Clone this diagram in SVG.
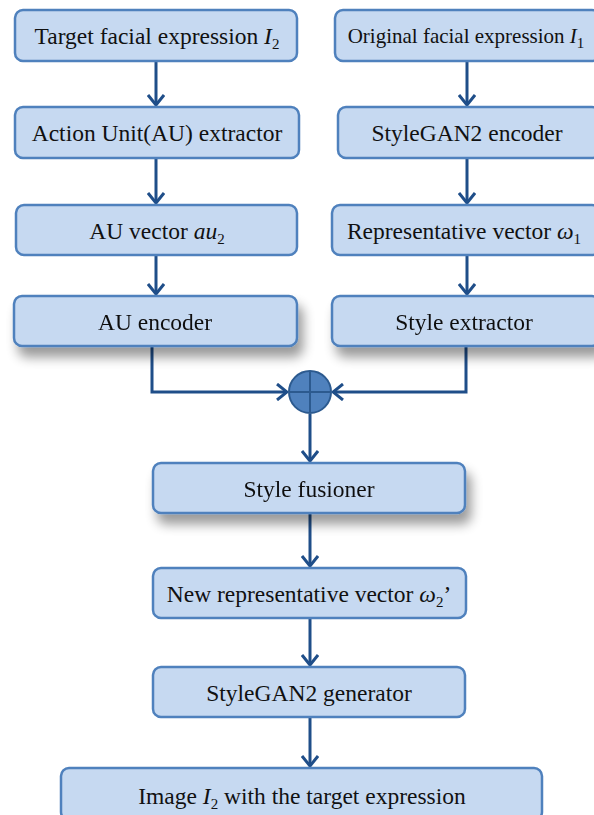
<svg xmlns="http://www.w3.org/2000/svg" width="594" height="815" viewBox="0 0 594 815">
<defs>
<style>
.box{fill:#c6d9f1;stroke:#4f81bd;stroke-width:2.5}
.t{font-family:"Liberation Serif","Times New Roman",serif;font-size:23.5px;fill:#111;text-anchor:middle}
.i{font-style:italic}
.s{font-size:15px}
.ln{fill:none;stroke:#1f4e89;stroke-width:3}
</style>
<marker id="ah" viewBox="0 0 12 18" refX="11" refY="9" markerWidth="12" markerHeight="18" markerUnits="userSpaceOnUse" orient="auto">
<path d="M1,1 L11,9 L1,17" fill="none" stroke="#1f4e89" stroke-width="3" stroke-linejoin="miter"/>
</marker>
<filter id="sh" x="-10%" y="-30%" width="125%" height="190%">
<feGaussianBlur in="SourceAlpha" stdDeviation="6"/>
<feOffset dx="5" dy="10" result="b"/>
<feComponentTransfer><feFuncA type="linear" slope="0.4"/></feComponentTransfer>
<feMerge><feMergeNode/><feMergeNode in="SourceGraphic"/></feMerge>
</filter>
</defs>
<rect width="594" height="815" fill="#fff"/>
<g id="connectors">
<line class="ln" x1="156" y1="62" x2="156" y2="105" marker-end="url(#ah)"/>
<line class="ln" x1="156" y1="158" x2="156" y2="203" marker-end="url(#ah)"/>
<line class="ln" x1="156" y1="255" x2="156" y2="294" marker-end="url(#ah)"/>
<line class="ln" x1="467" y1="62" x2="467" y2="105" marker-end="url(#ah)"/>
<line class="ln" x1="467" y1="158" x2="467" y2="203" marker-end="url(#ah)"/>
<line class="ln" x1="467" y1="255" x2="467" y2="294" marker-end="url(#ah)"/>
<polyline class="ln" points="152,347 152,392 287,392" marker-end="url(#ah)"/>
<polyline class="ln" points="466,347 466,392 333,392" marker-end="url(#ah)"/>
<line class="ln" x1="310" y1="414" x2="310" y2="461" marker-end="url(#ah)"/>
<line class="ln" x1="310" y1="514" x2="310" y2="566" marker-end="url(#ah)"/>
<line class="ln" x1="310" y1="619" x2="310" y2="665" marker-end="url(#ah)"/>
<line class="ln" x1="310" y1="718" x2="310" y2="766" marker-end="url(#ah)"/>
</g>
<g id="sum">
<circle cx="310" cy="392" r="21" fill="#4f81bd" stroke="#2c5a8f" stroke-width="2"/>
<line x1="310" y1="371" x2="310" y2="413" stroke="#2c5a8f" stroke-width="2"/>
<line x1="289" y1="392" x2="331" y2="392" stroke="#2c5a8f" stroke-width="2"/>
</g>
<g id="n1"><rect class="box" x="15" y="10" width="282" height="51" rx="8"/>
<text class="t" x="157" y="44">Target facial expression <tspan class="i">I</tspan><tspan class="s" dy="5">2</tspan></text></g>
<g id="n2"><rect class="box" x="15" y="107" width="284" height="51" rx="8"/>
<text class="t" x="157" y="141">Action Unit(AU) extractor</text></g>
<g id="n3"><rect class="box" x="16" y="205" width="281" height="50" rx="8"/>
<text class="t" x="157" y="239">AU vector  <tspan class="i">au</tspan><tspan class="s" dy="5">2</tspan></text></g>
<g id="n4" filter="url(#sh)"><rect class="box" x="14" y="296" width="283" height="50" rx="8"/>
<text class="t" x="155" y="330">AU encoder</text></g>
<g id="n5"><rect class="box" x="335" y="10" width="265" height="51" rx="8"/>
<text class="t" x="466" y="43" style="font-size:21px">Original  facial expression <tspan class="i">I</tspan><tspan class="s" dy="5">1</tspan></text></g>
<g id="n6"><rect class="box" x="338" y="107" width="262" height="51" rx="8"/>
<text class="t" x="467" y="141">StyleGAN2 encoder</text></g>
<g id="n7"><rect class="box" x="332" y="205" width="268" height="50" rx="8"/>
<text class="t" x="464" y="239">Representative vector <tspan class="i">ω</tspan><tspan class="s" dy="5">1</tspan></text></g>
<g id="n8" filter="url(#sh)"><rect class="box" x="332" y="296" width="268" height="50" rx="8"/>
<text class="t" x="464" y="330">Style extractor</text></g>
<g id="n9" filter="url(#sh)"><rect class="box" x="153" y="463" width="312" height="50" rx="8"/>
<text class="t" x="309" y="497">Style fusioner</text></g>
<g id="n10"><rect class="box" x="153" y="568" width="313" height="50" rx="8"/>
<text class="t" x="309" y="602">New representative vector  <tspan class="i">ω</tspan><tspan class="s" dy="5">2</tspan><tspan dy="-5">’</tspan></text></g>
<g id="n11"><rect class="box" x="153" y="667" width="312" height="50" rx="8"/>
<text class="t" x="309" y="701">StyleGAN2 generator</text></g>
<g id="n12"><rect class="box" x="61" y="768" width="481" height="52" rx="8"/>
<text class="t" x="302" y="804">Image <tspan class="i">I</tspan><tspan class="s" dy="5">2</tspan><tspan dy="-5"> with the target expression</tspan></text></g>
</svg>
